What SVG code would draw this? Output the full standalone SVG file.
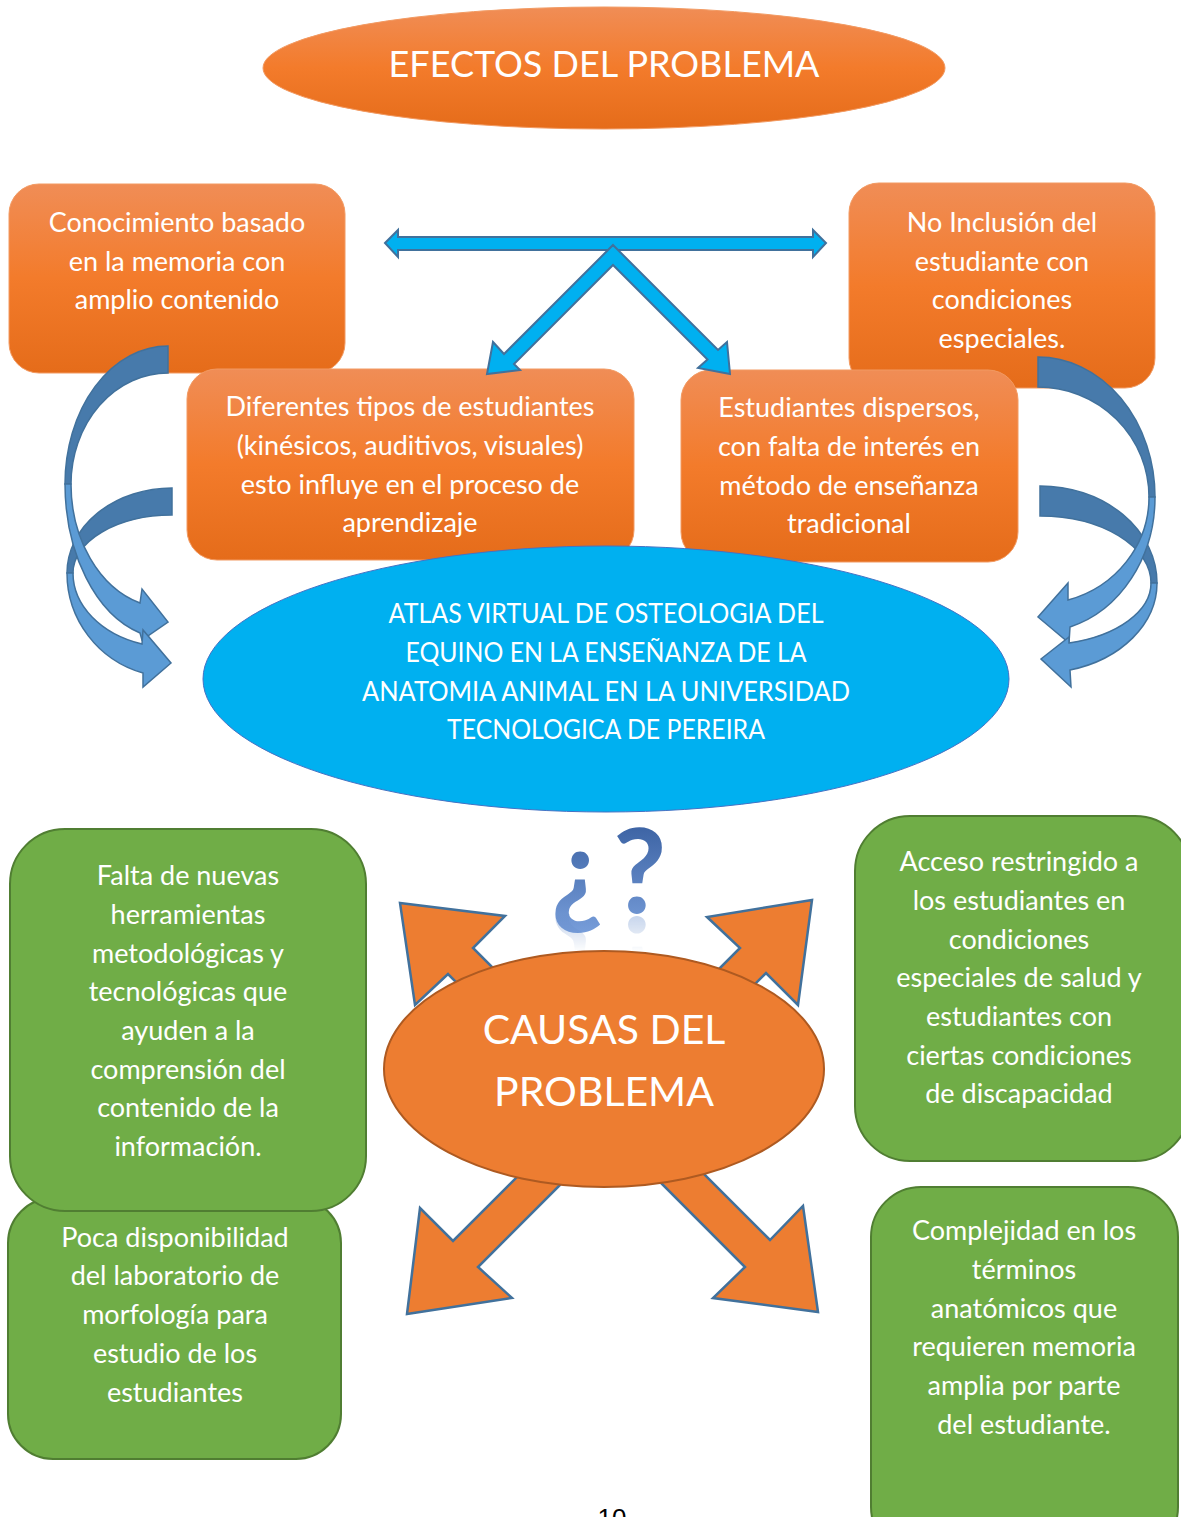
<svg xmlns="http://www.w3.org/2000/svg" xmlns:xlink="http://www.w3.org/1999/xlink" width="1181" height="1517" viewBox="0 0 1181 1517">
<defs>
<linearGradient id="og" x1="0" y1="0" x2="0" y2="1">
<stop offset="0" stop-color="#F08D56"/><stop offset="0.5" stop-color="#F37B2B"/><stop offset="1" stop-color="#E56C1A"/>
</linearGradient>
<linearGradient id="qg" x1="0" y1="0" x2="0" y2="1">
<stop offset="0" stop-color="#2E5597"/><stop offset="1" stop-color="#7AA0DC"/>
</linearGradient>
<linearGradient id="fade" x1="0" y1="0" x2="0" y2="1">
<stop offset="0" stop-color="#fff" stop-opacity="0.4"/><stop offset="1" stop-color="#fff" stop-opacity="0"/>
</linearGradient>
<mask id="rm" maskUnits="userSpaceOnUse" x="500" y="905" width="200" height="60">
<rect x="500" y="914" width="200" height="38" fill="url(#fade)"/>
</mask>
<style>
.t{font-family:Lato,"Liberation Sans",sans-serif;fill:#fff;text-anchor:middle;}
.b{font-size:27px;}
.ob{fill:url(#og);stroke:#F29A62;stroke-width:1;}
.gb{fill:#70AD47;stroke:#507E32;stroke-width:2;}
.ba{fill:#00B0F0;stroke:#41719C;stroke-width:2;stroke-linejoin:miter;}
.dk{fill:#477AAB;stroke:#41719C;stroke-width:1.5;}
.lt{fill:#5B9BD5;stroke:#41719C;stroke-width:1.5;}
.oa{fill:#ED7D31;stroke:#41719C;stroke-width:2.5;}
</style>
</defs>
<rect width="1181" height="1517" fill="#fff"/>

<g id="efectos">
<ellipse cx="604" cy="68" rx="341" ry="61" class="ob"/>
<text class="t" x="604" y="77" font-size="36">EFECTOS DEL PROBLEMA</text>
</g>

<g id="box1">
<rect x="9" y="184" width="336" height="189" rx="30" class="ob"/>
<text class="t b" x="177" y="232">Conocimiento basado</text>
<text class="t b" x="177" y="271">en la memoria con</text>
<text class="t b" x="177" y="309">amplio contenido</text>
</g>

<g id="box2">
<rect x="849" y="183" width="306" height="205" rx="30" class="ob"/>
<text class="t b" x="1002" y="232">No Inclusión del</text>
<text class="t b" x="1002" y="271">estudiante con</text>
<text class="t b" x="1002" y="309">condiciones</text>
<text class="t b" x="1002" y="348">especiales.</text>
</g>

<g id="box3">
<rect x="187" y="369" width="447" height="191" rx="30" class="ob"/>
<text class="t b" x="410" y="416">Diferentes tipos de estudiantes</text>
<text class="t b" x="410" y="455">(kinésicos, auditivos, visuales)</text>
<text class="t b" x="410" y="494">esto influye en el proceso de</text>
<text class="t b" x="410" y="532">aprendizaje</text>
</g>

<g id="box4">
<rect x="681" y="370" width="337" height="192" rx="30" class="ob"/>
<text class="t b" x="849" y="417">Estudiantes dispersos,</text>
<text class="t b" x="849" y="456">con falta de interés en</text>
<text class="t b" x="849" y="495">método de enseñanza</text>
<text class="t b" x="849" y="533">tradicional</text>
</g>

<g id="connectors">
<polygon class="ba" points="385,243 398,230 398,237 813,237 813,230 826,243 813,257 813,250 398,250 398,257"/>
<polygon class="ba" points="613,245 718,350 727,342 730,374 698,368 707.5,359.5 613,265 514,364 520,370 487,374 493,342 504,354"/>

<path class="dk" d="M168,346 A103,138 0 0 0 65,484 L71,484 A97,111 0 0 1 168,373 Z"/>
<path class="dk" d="M172,488 A105,85 0 0 0 67,573 L73,573 A99,58 0 0 1 172,515 Z"/>
<path class="lt" d="M65,484 A102,155 0 0 0 140,633 L142,640 L168,622 L142,589 L140,603 A96,124 0 0 1 71,484 Z"/>
<path class="lt" d="M67,573 A105,104 0 0 0 143,673 L143,687 L171,663 L143,630 L142,644 A99,74.5 0 0 1 73,573 Z"/>

<path class="dk" d="M1038,357 A117,140 0 0 1 1155,497 L1149,497 A111,110 0 0 0 1038,387 Z"/>
<path class="dk" d="M1040,486 A117,97 0 0 1 1157,583 L1151,583 A111,67 0 0 0 1040,516 Z"/>
<path class="lt" d="M1155,497 A117,135 0 0 1 1070,627 L1069,643 L1038,617 L1068,583 L1068,600 A111,107 0 0 0 1149,497 Z"/>
<path class="lt" d="M1157,583 A117,90 0 0 1 1070,670 L1071,687 L1041,659 L1069,637 L1069,643 A111,62 0 0 0 1151,583 Z"/>

<polygon class="oa" points="400,903 505,916 473,948 573,1048 548,1074 448,974 415,1005"/>
<polygon class="oa" points="812,900 707,917 740,948 640,1048 666,1073 766,973 798,1005"/>
<polygon class="oa" points="407,1314 420,1208 453,1241 553,1141 578,1167 478,1267 512,1298"/>
<polygon class="oa" points="818,1312 803,1206 770,1240 670,1140 645,1167 745,1267 713,1298"/>
</g>

<g id="atlas">
<ellipse cx="606" cy="679" rx="403" ry="133" fill="#00B0F0" stroke="#4472C4" stroke-width="1"/>
<text class="t" font-size="26" x="606" y="623" textLength="435" lengthAdjust="spacingAndGlyphs">ATLAS VIRTUAL DE OSTEOLOGIA DEL</text>
<text class="t" font-size="26" x="606" y="662" textLength="401" lengthAdjust="spacingAndGlyphs">EQUINO EN LA ENSEÑANZA DE LA</text>
<text class="t" font-size="26" x="606" y="701" textLength="488" lengthAdjust="spacingAndGlyphs">ANATOMIA ANIMAL EN LA UNIVERSIDAD</text>
<text class="t" font-size="26" x="606" y="739" textLength="318" lengthAdjust="spacingAndGlyphs">TECNOLOGICA DE PEREIRA</text>
</g>

<g id="causas">
<ellipse cx="604" cy="1069" rx="220" ry="118" fill="#ED7D31" stroke="#AE5A21" stroke-width="2"/>
<text class="t" font-size="41" x="604" y="1044">CAUSAS DEL</text>
<text class="t" font-size="41" x="604" y="1106">PROBLEMA</text>
</g>

<g id="pregunta">
<text id="qm" font-family="Lato,'Liberation Sans',sans-serif" font-size="116" font-weight="bold" fill="url(#qg)"><tspan x="551" y="913">¿</tspan><tspan x="613" y="913">?</tspan></text>
<g mask="url(#rm)"><use xlink:href="#qm" transform="translate(0,1830) scale(1,-1)"/></g>
</g>

<g id="falta">
<rect x="8" y="1198" width="333" height="261" rx="45" class="gb"/>
<rect x="10" y="829" width="356" height="382" rx="55" class="gb"/>
<text class="t b" x="188" y="885">Falta de nuevas</text>
<text class="t b" x="188" y="924">herramientas</text>
<text class="t b" x="188" y="963">metodológicas y</text>
<text class="t b" x="188" y="1001">tecnológicas que</text>
<text class="t b" x="188" y="1040">ayuden a la</text>
<text class="t b" x="188" y="1079">comprensión del</text>
<text class="t b" x="188" y="1117">contenido de la</text>
<text class="t b" x="188" y="1156">información.</text>
</g>

<g id="poca">
<text class="t b" x="175" y="1247">Poca disponibilidad</text>
<text class="t b" x="175" y="1285">del laboratorio de</text>
<text class="t b" x="175" y="1324">morfología para</text>
<text class="t b" x="175" y="1363">estudio de los</text>
<text class="t b" x="175" y="1402">estudiantes</text>
</g>

<g id="acceso">
<rect x="855" y="816" width="335" height="345" rx="55" class="gb"/>
<text class="t b" x="1019" y="871">Acceso restringido a</text>
<text class="t b" x="1019" y="910">los estudiantes en</text>
<text class="t b" x="1019" y="949">condiciones</text>
<text class="t b" x="1019" y="987">especiales de salud y</text>
<text class="t b" x="1019" y="1026">estudiantes con</text>
<text class="t b" x="1019" y="1065">ciertas condiciones</text>
<text class="t b" x="1019" y="1103">de discapacidad</text>
</g>

<g id="complejidad">
<rect x="871" y="1187" width="307" height="370" rx="50" class="gb"/>
<text class="t b" x="1024" y="1240">Complejidad en los</text>
<text class="t b" x="1024" y="1279">términos</text>
<text class="t b" x="1024" y="1318">anatómicos que</text>
<text class="t b" x="1024" y="1356">requieren memoria</text>
<text class="t b" x="1024" y="1395">amplia por parte</text>
<text class="t b" x="1024" y="1434">del estudiante.</text>
</g>

<text x="612" y="1527" font-family="'Liberation Sans',Arial,sans-serif" font-size="26" fill="#000" text-anchor="middle">10</text>
</svg>
